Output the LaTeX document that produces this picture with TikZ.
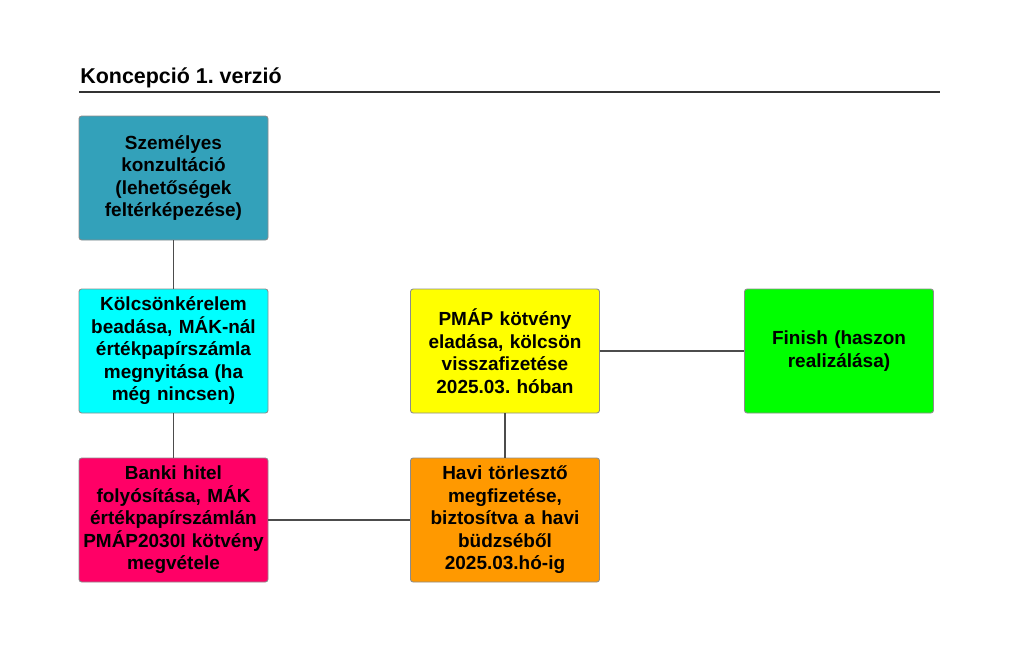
\documentclass[tikz,border=0pt]{standalone}
\usepackage{fontspec}
\setmainfont{Liberation Sans}
\usepackage{tikz}
\usetikzlibrary{positioning}
\frenchspacing
\definecolor{tealbox}{RGB}{51,161,186}
\definecolor{cyanbox}{RGB}{0,255,255}
\definecolor{pinkbox}{RGB}{255,0,102}
\definecolor{yellowbox}{RGB}{255,255,0}
\definecolor{orangebox}{RGB}{255,153,0}
\definecolor{greenbox}{RGB}{0,255,0}
\tikzstyle{flowbox} = [draw=black!45, line width=0.5pt, rounded corners=1.5pt, text centered, align=center, text width=3.74cm, minimum width=3.78cm, minimum height=2.48cm, inner sep=0pt, font=\fontsize{10.8}{12.8}\selectfont\bfseries]
\tikzstyle{heading} = [anchor=base west, inner sep=0pt, font=\fontsize{12.2}{14}\selectfont\bfseries]
\tikzstyle{line} = [draw, line width=0.8pt, color=black!70]
\tikzstyle{rule} = [draw, line width=0.9pt, color=black!80]
\newcommand{\flowbox}[3]{node (b#1) [flowbox, fill=#2] {#3}}

\begin{document}
\begin{tikzpicture}
\useasboundingbox (0,0) rectangle (20.48,-13.12);
\node (title) [heading] at (1.6,-1.66) {Koncepció 1. verzió};
\path [rule] (1.58,-1.84) -- (18.8,-1.84);

\path (3.47,-3.56) \flowbox{1}{tealbox}{Személyes\\konzultáció\\(lehetőségek\\feltérképezése)};
\path (b1)+(0.0,-3.46) \flowbox{2}{cyanbox}{Kölcsönkérelem\\beadása, MÁK-nál\\értékpapírszámla\\megnyitása (ha\\még nincsen)};
\path (b2)+(0.0,-3.38) \flowbox{3}{pinkbox}{Banki hitel\\folyósítása, MÁK\\értékpapírszámlán\\PMÁP2030I kötvény\\megvétele};
\path (b2)+(6.63,0.0) \flowbox{4}{yellowbox}{PMÁP kötvény\\eladása, kölcsön\\visszafizetése\\2025.03. hóban};
\path (b4)+(0.0,-3.38) \flowbox{5}{orangebox}{Havi törlesztő\\megfizetése,\\biztosítva a havi\\büdzséből\\2025.03.hó-ig};
\path (b4)+(6.68,0.0) \flowbox{6}{greenbox}{Finish (haszon\\realizálása)};

\path [line] (b1.south) -- (b2.north);
\path [line] (b2.south) -- (b3.north);
\path [line] (b3.east) -- (b5.west);
\path [line] (b5.north) -- (b4.south);
\path [line] (b4.east) -- (b6.west);
\end{tikzpicture}
\end{document}
